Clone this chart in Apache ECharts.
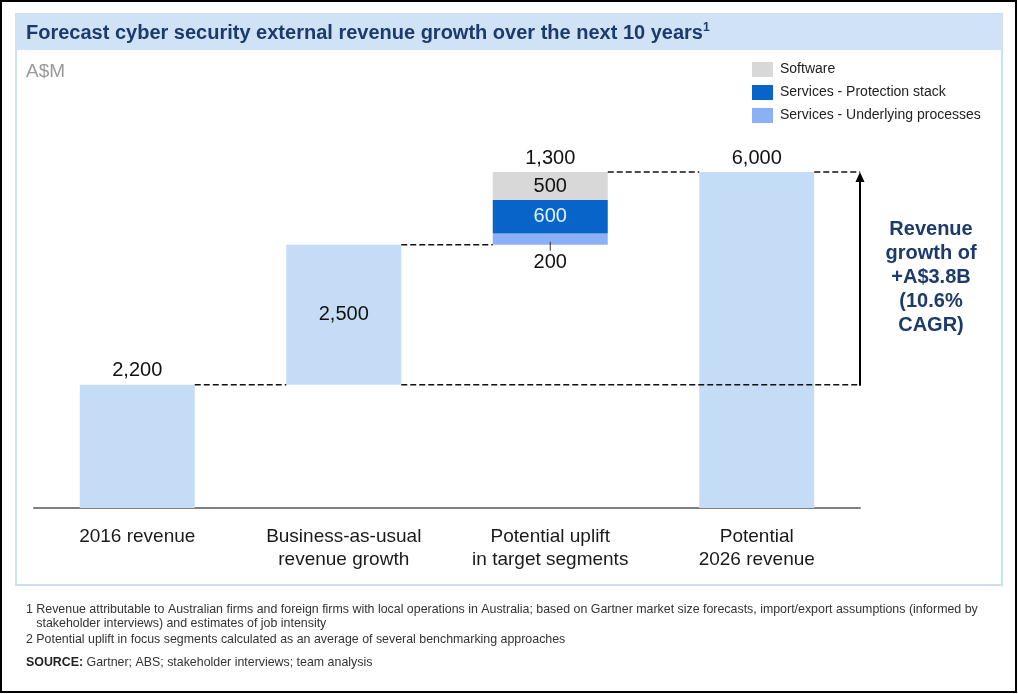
<!DOCTYPE html>
<html>
<head>
<meta charset="utf-8">
<script src="https://cdn.jsdelivr.net/npm/echarts@6/dist/echarts.min.js"></script>
<style>
  html, body { margin: 0; padding: 0; background: #ffffff; }
  #chart { width: 1018px; height: 694px; }
</style>
</head>
<body>
<div id="chart"></div>
<script>
// ---- Data (A$M) ----
const categories = [
  '2016 revenue',
  'Business-as-usual\nrevenue growth',
  'Potential uplift\nin target segments',
  'Potential\n2026 revenue'
];
const revenueBars      = [2200, 2500, null, 6000];   // single-colour steps
const upliftSoftware   = [null, null, 500, null];
const upliftProtection = [null, null, 600, null];
const upliftUnderlying = [null, null, 200, null];
const isTotalBar       = [false, false, false, true];
const seriesNames = ['Software', 'Services - Protection stack', 'Services - Underlying processes'];
const growthNote = ['Revenue', 'growth of', '+A$3.8B', '(10.6%', 'CAGR)'];
const footnotes = [
  '1 Revenue attributable to Australian firms and foreign firms with local operations in Australia; based on Gartner market size forecasts, import/export assumptions (informed by',
  '   stakeholder interviews) and estimates of job intensity',
  '2 Potential uplift in focus segments calculated as an average of several benchmarking approaches'
];
const sourceText = 'Gartner; ABS; stakeholder interviews; team analysis';

// ---- Waterfall geometry derived from the data ----
const BAR_WIDTH = 115;
const FONT = 'Liberation Sans, Arial, sans-serif';
const fmt = v => Number(v).toLocaleString('en-US');
const stepHeight = categories.map((_, i) =>
  (revenueBars[i] || 0) + (upliftSoftware[i] || 0) + (upliftProtection[i] || 0) + (upliftUnderlying[i] || 0));
const offsets = [];
const tops = [];
let running = 0;
categories.forEach((_, i) => {
  const base = isTotalBar[i] ? 0 : running;
  offsets.push(base);
  tops.push(base + stepHeight[i]);
  if (!isTotalBar[i]) running += stepHeight[i];
});
// dashed connectors: [from, to, level, extend to the arrow]
const connectors = [];
for (let i = 0; i < categories.length - 1; i++) {
  connectors.push([i, i + 1, tops[i], (i === 0 || i === categories.length - 2) ? 1 : 0]);
}
const upliftIdx = 2;

const valueLabel = { show: true, fontSize: 20, color: '#111', fontFamily: FONT, formatter: p => fmt(p.value) };

const revenueData = revenueBars.map((v, i) => {
  if (v == null) return '-';
  return { value: v, label: { position: i === 1 ? 'inside' : 'top', distance: 4 } };
});

const chart = echarts.init(document.getElementById('chart'), null, { renderer: 'canvas' });

const dashed = { stroke: '#111', lineWidth: 1.4, lineDash: [6, 3], fill: null };
const footStyle = { fontSize: 12.4, fill: '#333', fontFamily: FONT, verticalAlign: 'middle' };

chart.setOption({
  animation: false,
  backgroundColor: '#ffffff',
  textStyle: { fontFamily: FONT },
  grid: { left: 34, right: 158, top: 172, bottom: 186, containLabel: false },
  legend: {
    data: seriesNames,
    orient: 'vertical',
    left: 752,
    top: 62,
    padding: 0,
    itemWidth: 21,
    itemHeight: 15,
    itemGap: 8,
    icon: 'rect',
    textStyle: { fontSize: 14, color: '#222', fontFamily: FONT, padding: [0, 0, 0, 2] },
    selectedMode: false
  },
  xAxis: {
    type: 'category',
    data: categories,
    axisLine: { show: true, lineStyle: { color: '#7f7f7f', width: 2 } },
    axisTick: { show: false },
    axisLabel: { fontSize: 19, lineHeight: 23, color: '#1a1a1a', margin: 17, fontFamily: FONT, interval: 0 },
    splitLine: { show: false }
  },
  yAxis: { type: 'value', min: 0, max: 6000, show: false, splitLine: { show: false } },
  series: [
    {
      name: 'offset', type: 'bar', stack: 'w', barWidth: BAR_WIDTH, silent: true,
      itemStyle: { color: 'transparent' }, data: offsets.map((v, i) => isTotalBar[i] || i === 0 ? '-' : v)
    },
    {
      name: 'revenue', type: 'bar', stack: 'w', barWidth: BAR_WIDTH,
      itemStyle: { color: '#c5dcf6' }, label: valueLabel, data: revenueData
    },
    {
      name: seriesNames[2], type: 'bar', stack: 'w', barWidth: BAR_WIDTH,
      itemStyle: { color: '#8cb0f5' },
      label: Object.assign({}, valueLabel, { position: 'bottom', distance: 8 }),
      data: upliftUnderlying.map(v => v == null ? '-' : v)
    },
    {
      name: seriesNames[1], type: 'bar', stack: 'w', barWidth: BAR_WIDTH,
      itemStyle: { color: '#0864c8' },
      label: Object.assign({}, valueLabel, { position: 'inside', color: '#e0f3ff' }),
      data: upliftProtection.map(v => v == null ? '-' : v)
    },
    {
      name: seriesNames[0], type: 'bar', stack: 'w', barWidth: BAR_WIDTH,
      itemStyle: { color: '#d8d8d8' },
      label: Object.assign({}, valueLabel, { position: 'inside' }),
      data: upliftSoftware.map(v => v == null ? '-' : v)
    },
    {
      // dashed step connectors
      name: 'connectors', type: 'custom', z: 5, silent: true,
      encode: { x: [0, 1], y: 2 },
      data: connectors,
      renderItem: (params, api) => {
        const from = api.value(0), to = api.value(1), v = api.value(2), ext = api.value(3);
        const a = api.coord([from, v]);
        const b = api.coord([to, v]);
        const half = BAR_WIDTH / 2;
        const edge = params.coordSys.x + params.coordSys.width;
        const children = [{ type: 'line', shape: { x1: a[0] + half, y1: a[1], x2: b[0] - half, y2: b[1] }, style: dashed }];
        if (ext) children.push({ type: 'line', shape: { x1: b[0] + half, y1: b[1], x2: edge, y2: b[1] }, style: dashed });
        return { type: 'group', children };
      }
    },
    {
      // uplift total above the stack and the small tick to its bottom label
      name: 'upliftTotal', type: 'custom', z: 5, silent: true,
      encode: { x: 0, y: [1, 2] },
      data: [[upliftIdx, offsets[upliftIdx], tops[upliftIdx]]],
      renderItem: (params, api) => {
        const lo = api.coord([api.value(0), api.value(1)]);
        const hi = api.coord([api.value(0), api.value(2)]);
        return {
          type: 'group',
          children: [
            { type: 'line', shape: { x1: lo[0], y1: lo[1] - 3, x2: lo[0], y2: lo[1] + 6 }, style: { stroke: '#333', lineWidth: 1 } },
            { type: 'text', x: hi[0], y: hi[1] - 4,
              style: { text: fmt(api.value(2) - api.value(1)), fontSize: 20, fill: '#111', fontFamily: FONT, align: 'center', verticalAlign: 'bottom' } }
          ]
        };
      }
    },
    {
      // growth arrow from 2016 revenue to 2026 revenue
      name: 'growthArrow', type: 'custom', z: 5, silent: true,
      encode: { y: [0, 1] },
      data: [[tops[0], tops[categories.length - 1]]],
      renderItem: (params, api) => {
        const x = params.coordSys.x + params.coordSys.width;
        const y0 = api.coord([0, api.value(0)])[1];
        const y1 = api.coord([0, api.value(1)])[1];
        return {
          type: 'group',
          children: [
            { type: 'line', shape: { x1: x, y1: y0 + 1, x2: x, y2: y1 + 8 }, style: { stroke: '#000', lineWidth: 2 } },
            { type: 'polygon', shape: { points: [[x, y1], [x - 4.5, y1 + 10], [x + 4.5, y1 + 10]] }, style: { fill: '#000' } }
          ]
        };
      }
    }
  ],
  graphic: {
    elements: [
      { type: 'rect', z: -20, shape: { x: 1, y: 1, width: 1015, height: 691 },
        style: { fill: null, stroke: '#000', lineWidth: 2 } },
      { type: 'rect', z: -10, shape: { x: 16, y: 14, width: 986, height: 571 },
        style: { fill: null, stroke: '#cadff3', lineWidth: 2 } },
      { type: 'rect', z: -9, shape: { x: 16, y: 14, width: 986, height: 36 },
        style: { fill: '#cfe2f6' } },
      { type: 'text', x: 26, y: 33,
        style: {
          text: '{t|Forecast cyber security external revenue growth over the next 10 years}{s|1}',
          verticalAlign: 'middle',
          rich: {
            t: { fontSize: 20, fontWeight: 'bold', fill: '#1c3a6b', fontFamily: FONT, lineHeight: 22 },
            s: { fontSize: 12, fontWeight: 'bold', fill: '#1c3a6b', fontFamily: FONT, verticalAlign: 'top', lineHeight: 12 }
          }
        } },
      { type: 'text', x: 26, y: 72,
        style: { text: 'A$M', fontSize: 19, fill: '#9a9a9a', fontFamily: FONT, verticalAlign: 'middle' } },
      { type: 'text', x: 931, y: 277,
        style: { text: growthNote.join('\n'), fontSize: 20, lineHeight: 24, fontWeight: 'bold', fill: '#1c3a6b',
                 fontFamily: FONT, align: 'center', verticalAlign: 'middle' } },
      { type: 'text', x: 26, y: 610, style: Object.assign({ text: footnotes[0] }, footStyle) },
      { type: 'text', x: 26, y: 624, style: Object.assign({ text: footnotes[1] }, footStyle) },
      { type: 'text', x: 26, y: 640, style: Object.assign({ text: footnotes[2] }, footStyle) },
      { type: 'text', x: 26, y: 663,
        style: {
          text: '{b|SOURCE:}{r| ' + sourceText + '}',
          verticalAlign: 'middle',
          rich: {
            b: { fontSize: 12.4, fontWeight: 'bold', fill: '#222', fontFamily: FONT },
            r: { fontSize: 12.4, fill: '#333', fontFamily: FONT }
          }
        } }
    ]
  }
});
</script>
</body>
</html>
